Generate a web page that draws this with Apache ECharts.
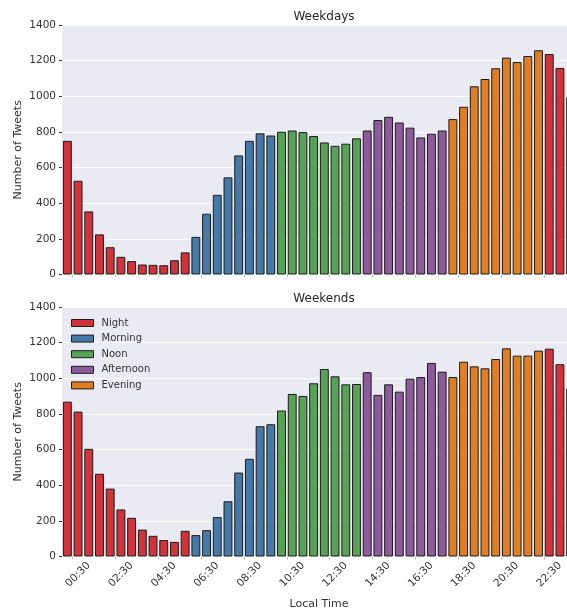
<!DOCTYPE html>
<html>
<head>
<meta charset="utf-8">
<script src="https://cdn.jsdelivr.net/npm/echarts@6/dist/echarts.min.js"></script>
<style>
  html, body { margin: 0; padding: 0; background: #fff; }
  #chart { width: 567px; height: 612px; }
</style>
</head>
<body>
<div id="chart"></div>
<script>
// Half-hour bins of the day
const timeLabels = [
  "00:00","00:30","01:00","01:30","02:00","02:30","03:00","03:30",
  "04:00","04:30","05:00","05:30","06:00","06:30","07:00","07:30",
  "08:00","08:30","09:00","09:30","10:00","10:30","11:00","11:30",
  "12:00","12:30","13:00","13:30","14:00","14:30","15:00","15:30",
  "16:00","16:30","17:00","17:30","18:00","18:30","19:00","19:30",
  "20:00","20:30","21:00","21:30","22:00","22:30","23:00","23:30"
];

// Period of the day for each bin
const periodOfBin = [
  "Night","Night","Night","Night","Night","Night","Night","Night",
  "Night","Night","Night","Night","Morning","Morning","Morning","Morning",
  "Morning","Morning","Morning","Morning","Noon","Noon","Noon","Noon",
  "Noon","Noon","Noon","Noon","Afternoon","Afternoon","Afternoon","Afternoon",
  "Afternoon","Afternoon","Afternoon","Afternoon","Evening","Evening","Evening","Evening",
  "Evening","Evening","Evening","Evening","Evening","Night","Night","Night"
];

const periods = ["Night", "Morning", "Noon", "Afternoon", "Evening"];
const periodColors = ["#d0343a", "#4479a8", "#58a255", "#8d5a9b", "#e07f21"];

// Tweets per half-hour bin
const weekdayCounts = [
  750, 526, 354, 225, 153, 99, 75, 56, 54, 52, 80, 124,
  211, 341, 447, 545, 668, 750, 792, 780,
  801, 808, 799, 777, 741, 722, 734, 764,
  808, 867, 885, 853, 824, 769, 790, 808,
  872, 941, 1056, 1097, 1157, 1217, 1192, 1226, 1258,
  1237, 1159, 996
];
const weekendCounts = [
  869, 813, 604, 464, 381, 264, 217, 151, 116, 92, 82, 144,
  120, 148, 221, 310, 471, 548, 731, 742,
  819, 912, 901, 972, 1052, 1011, 966, 968,
  1034, 907, 966, 925, 998, 1007, 1086, 1037,
  1007, 1093, 1067, 1056, 1108, 1168, 1127, 1127, 1155,
  1166, 1079, 942
];

const yTicks = { min: 0, max: 1400, interval: 200 };

const FONT = "DejaVu Sans";
const TEXT = "#333333";

const chart = echarts.init(document.getElementById("chart"), null, { renderer: "canvas" });

// The plotting area runs past the right edge of the canvas
const panelTops = [25, 307];
const panelHeight = 249.5;
const panelLeft = 62;
const panelWidth = 514;

function labelEvery4(index) { return index % 4 === 1; }

const grids = panelTops.map(t => ({
  left: panelLeft, top: t, width: panelWidth, height: panelHeight,
  outerBoundsMode: "none",
  containLabel: false,
  show: true, backgroundColor: "#eaeaf2", borderWidth: 0
}));

const xAxes = [0, 1].map(i => ({
  type: "category",
  gridIndex: i,
  data: timeLabels,
  axisLine: { show: false },
  axisTick: { show: true, interval: labelEvery4, length: 3, inside: false,
              lineStyle: { color: "#bbbbbb", width: 1 } },
  axisLabel: i === 1 ? {
    show: true, interval: labelEvery4, rotate: 45, margin: 18,
    align: "center", verticalAlign: "middle",
    fontFamily: FONT, fontSize: 10.5, color: TEXT
  } : { show: false },
  splitLine: { show: false },
  name: i === 1 ? "Local Time" : "",
  nameLocation: "middle",
  nameGap: 42,
  nameMoveOverlap: false,
  nameTextStyle: { fontFamily: FONT, fontSize: 11, color: TEXT }
}));

const yAxes = [0, 1].map(i => ({
  type: "value",
  gridIndex: i,
  min: yTicks.min, max: yTicks.max, interval: yTicks.interval,
  axisLine: { show: false },
  axisTick: { show: true, length: 3, lineStyle: { color: "#333", width: 1 } },
  axisLabel: { fontFamily: FONT, fontSize: 10.5, color: TEXT, margin: 6,
               formatter: v => String(v) },
  splitLine: { show: true, lineStyle: { color: "#ffffff", width: 1.2 } },
  name: "Number of Tweets",
  nameLocation: "middle",
  nameRotate: 90,
  nameGap: 38,
  nameMoveOverlap: false,
  nameTextStyle: { fontFamily: FONT, fontSize: 11, color: TEXT }
}));

const series = [];
[weekdayCounts, weekendCounts].forEach((counts, panel) => {
  periods.forEach((p, k) => {
    series.push({
      name: p,
      type: "bar",
      xAxisIndex: panel,
      yAxisIndex: panel,
      stack: "panel" + panel,
      barCategoryGap: "17%",
      data: counts.map((v, idx) => periodOfBin[idx] === p ? v : "-"),
      itemStyle: { color: periodColors[k], borderColor: "#1c1c1c", borderWidth: 1 },
      emphasis: { disabled: true },
      animation: false
    });
  });
});

chart.setOption({
  animation: false,
  textStyle: { fontFamily: FONT },
  title: [
    { text: "Weekdays", left: panelLeft + panelWidth / 2, top: 6, textAlign: "center",
      textStyle: { fontFamily: FONT, fontSize: 12, fontWeight: "normal", color: "#262626" } },
    { text: "Weekends", left: panelLeft + panelWidth / 2, top: 288, textAlign: "center",
      textStyle: { fontFamily: FONT, fontSize: 12, fontWeight: "normal", color: "#262626" } }
  ],
  legend: {
    data: periods,
    orient: "vertical",
    left: 71, top: 317,
    padding: 0,
    itemWidth: 22, itemHeight: 7,
    itemGap: 3.6,
    icon: "rect",
    selectedMode: false,
    itemStyle: { borderColor: "#1c1c1c", borderWidth: 1 },
    textStyle: { fontFamily: FONT, fontSize: 10, color: TEXT, padding: [0, 0, 0, 3], lineHeight: 12 }
  },
  grid: grids,
  xAxis: xAxes,
  yAxis: yAxes,
  series: series
});
</script>
</body>
</html>
